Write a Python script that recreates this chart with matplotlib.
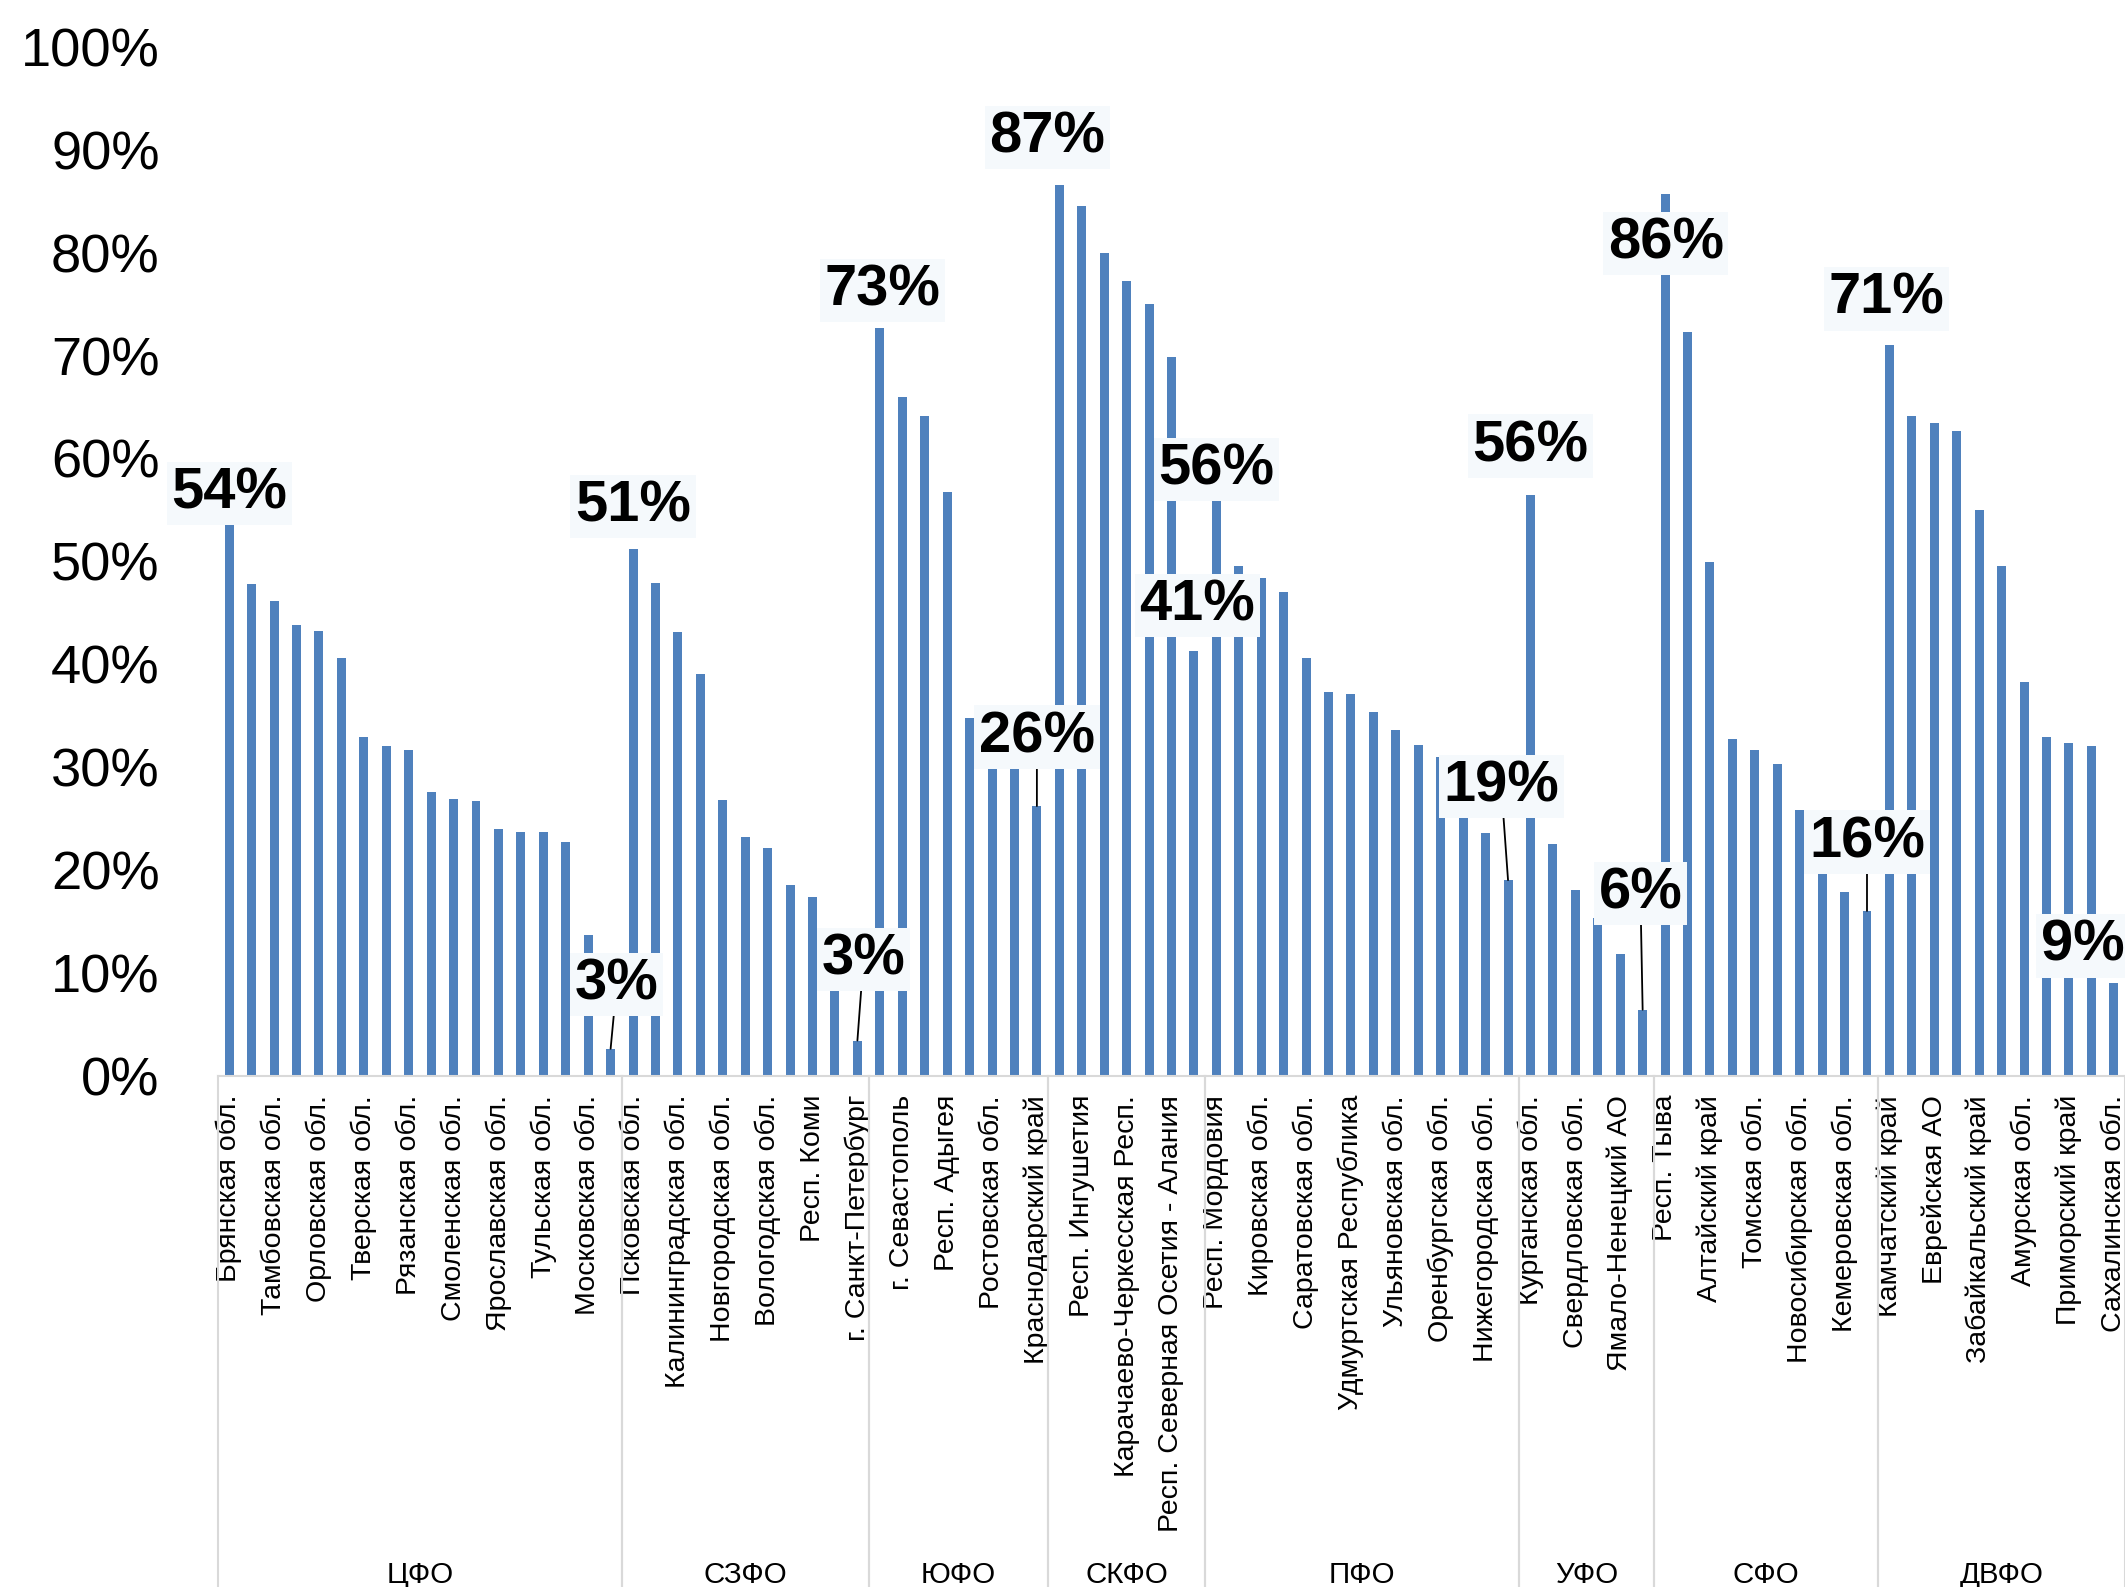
import matplotlib
matplotlib.use("Agg")
import matplotlib.pyplot as plt
from matplotlib import font_manager as fm
from matplotlib.transforms import blended_transform_factory

# pick a narrow face if the system has one
names = {f.name for f in fm.fontManager.ttflist}
if "Liberation Sans Narrow" in names:
    narrow, shrink = "Liberation Sans Narrow", 1.0
else:
    narrow, shrink = "Liberation Sans", 0.85
plt.rcParams["font.family"] = ["Liberation Sans", "DejaVu Sans"]

# federal districts and how many regions each one has
districts = ["ЦФО", "СЗФО", "ЮФО", "СКФО", "ПФО", "УФО", "СФО", "ДВФО"]
district_sizes = [18, 11, 8, 7, 14, 6, 10, 11]

# share per region, %, sorted inside every district
cfo = [53.6, 47.8, 46.1, 43.8, 43.2, 40.6, 32.9, 32.0, 31.6, 27.6, 26.9, 26.7,
       24.0, 23.7, 23.7, 22.7, 13.7, 2.6]
szfo = [51.2, 47.9, 43.1, 39.0, 26.8, 23.2, 22.1, 18.5, 17.4, 10.0, 3.4]
yufo = [72.7, 66.0, 64.1, 56.7, 34.8, 32.0, 30.5, 26.2]
skfo = [86.6, 84.5, 80.0, 77.2, 75.0, 69.9, 41.3]
pfo = [56.0, 49.5, 48.4, 47.0, 40.6, 37.3, 37.1, 35.3, 33.6, 32.1, 31.0, 27.0,
       23.6, 19.0]
ufo = [56.4, 22.5, 18.0, 15.3, 11.8, 6.4]
sfo = [85.7, 72.3, 49.9, 32.7, 31.6, 30.3, 25.8, 21.0, 17.8, 16.0]
dvfo = [71.0, 64.1, 63.4, 62.7, 55.0, 49.5, 38.3, 32.9, 32.3, 32.0, 9.0]
values = cfo + szfo + yufo + skfo + pfo + ufo + sfo + dvfo

# only every second region name is printed on the axis
shown_labels = [
    "Брянская обл.", "Тамбовская обл.", "Орловская обл.", "Тверская обл.",
    "Рязанская обл.", "Смоленская обл.", "Ярославская обл.", "Тульская обл.",
    "Московская обл.", "Псковская обл.", "Калининградская обл.",
    "Новгородская обл.", "Вологодская обл.", "Респ. Коми", "г. Санкт-Петербург",
    "г. Севастополь", "Респ. Адыгея", "Ростовская обл.", "Краснодарский край",
    "Респ. Ингушетия", "Карачаево-Черкесская Респ.",
    "Респ. Северная Осетия - Алания", "Респ. Мордовия", "Кировская обл.",
    "Саратовская обл.", "Удмуртская Республика", "Ульяновская обл.",
    "Оренбургская обл.", "Нижегородская обл.", "Курганская обл.",
    "Свердловская обл.", "Ямало-Ненецкий АО", "Респ. Тыва", "Алтайский край",
    "Томская обл.", "Новосибирская обл.", "Кемеровская обл.", "Камчатский край",
    "Еврейская АО", "Забайкальский край", "Амурская обл.", "Приморский край",
    "Сахалинская обл.",
]

# max / min of each district get a label: bar index -> where the box sits
label_spots = {0: (0.0, 56.6), 17: (17.27, 8.85), 18: (18.0, 55.3),
               28: (28.27, 11.3), 29: (29.1, 76.3), 36: (36.0, 32.9),
               37: (36.47, 91.2), 43: (43.14, 45.7), 44: (44.0, 58.9),
               57: (56.7, 28.1), 58: (58.0, 61.2), 63: (62.9, 17.7),
               64: (64.03, 80.9), 73: (73.0, 22.7), 74: (73.87, 75.5),
               84: (82.6, 12.6)}
with_leader = [17, 28, 36, 57, 63, 73]

W, H = 2125, 1587
fig = plt.figure(figsize=(W / 100, H / 100), dpi=100)
left, right, bottom, top = 218, 2125, 1075.5, 47
ax = fig.add_axes([left / W, 1 - bottom / H, (right - left) / W, (bottom - top) / H])

x = list(range(len(values)))
ax.bar(x, values, width=0.4, color="#4F81BD", zorder=2)

ax.set_xlim(-0.5, len(values) - 0.5)
ax.set_ylim(0, 100)
ax.set_yticks(range(0, 101, 10))
ax.set_yticklabels([f"{t}%" for t in range(0, 101, 10)], family=narrow,
                   fontsize=46 * shrink)
ax.tick_params(axis="y", length=0, pad=42)

ax.set_xticks(x[::2])
ax.set_xticklabels(shown_labels, rotation=90, ha="center", va="top",
                   fontsize=20.5)
ax.tick_params(axis="x", length=0, pad=14)

for s in ["top", "right", "left"]:
    ax.spines[s].set_visible(False)
ax.spines["bottom"].set_color("#D9D9D9")
ax.spines["bottom"].set_linewidth(1.5)

# district separators and district names below the region names
tr = blended_transform_factory(ax.transData, fig.transFigure)
ax_bottom = 1 - bottom / H
start = 0
for name, n in zip(districts, district_sizes):
    for b in (start - 0.5, start + n - 0.5):
        ax.plot([b, b], [0, ax_bottom], transform=tr, color="#D9D9D9",
                lw=1.5, clip_on=False)
    ax.text(start + (n - 1) / 2, 4 / H, name, transform=tr, ha="center",
            va="baseline", family=narrow, fontsize=25 * shrink)
    start += n

box = dict(boxstyle="square,pad=0.08", fc="#F5F9FC", ec="none")
for idx, (lx, ly) in label_spots.items():
    txt = f"{values[idx]:.0f}%"
    if idx in with_leader:
        ax.annotate(txt, xy=(idx, values[idx]), xytext=(lx, ly),
                    ha="center", va="center", family=narrow,
                    fontweight="bold", fontsize=49 * shrink, bbox=box,
                    zorder=5, annotation_clip=False,
                    arrowprops=dict(arrowstyle="-", color="black", lw=1.3,
                                    shrinkA=0, shrinkB=0))
    else:
        ax.text(lx, ly, txt, ha="center", va="center", family=narrow,
                fontweight="bold", fontsize=49 * shrink, bbox=box, zorder=5)

fig.savefig("out.png", dpi=100)
